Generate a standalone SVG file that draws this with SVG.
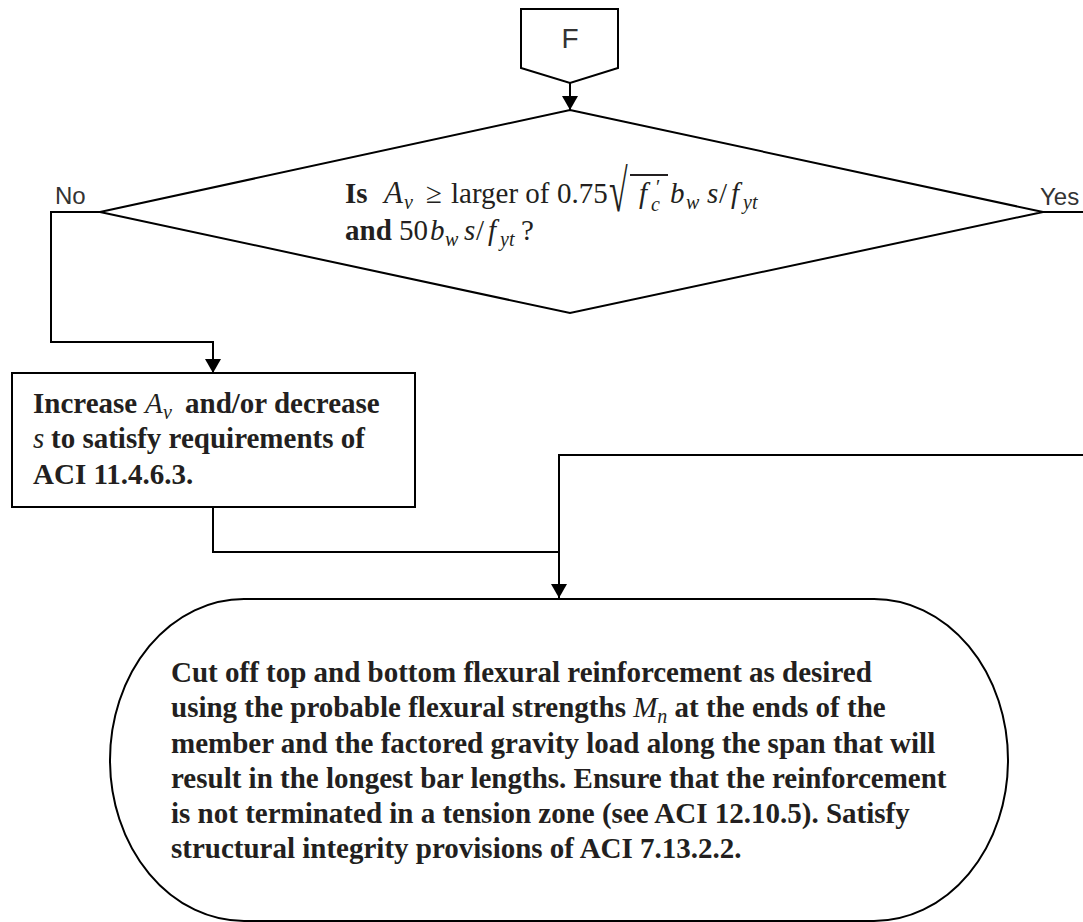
<svg xmlns="http://www.w3.org/2000/svg" width="1083" height="922" viewBox="0 0 1083 922">
<defs>
<style>
.shape{fill:#fff;stroke:#000;stroke-width:2}
.conn{fill:none;stroke:#000;stroke-width:2}
.lbl{font-family:"Liberation Sans",Arial,sans-serif;font-size:24px;fill:#333}
.t{font-family:"Liberation Serif","Times New Roman",serif;font-size:29px;fill:#231f20}
.b{font-weight:bold}
.i{font-style:italic}
.s{font-size:20px}
</style>
<marker id="arr" viewBox="0 0 14 16" refX="14" refY="8" markerWidth="14" markerHeight="16" markerUnits="userSpaceOnUse" orient="auto">
<path d="M0,0 L14,8 L0,16 Z" fill="#000"/>
</marker>
</defs>
<rect width="1083" height="922" fill="#fff"/>
<g id="connectors">
<line class="conn" x1="570" y1="83" x2="570" y2="110" marker-end="url(#arr)"/>
<polyline class="conn" points="100,212 51,212 51,342 213,342 213,373" marker-end="url(#arr)"/>
<line class="conn" x1="1043" y1="212" x2="1083" y2="212"/>
<polyline class="conn" points="213,507 213,552 559,552"/>
<polyline class="conn" points="1083,455 559,455 559,598" marker-end="url(#arr)"/>
<text class="lbl" x="55" y="204">No</text>
<text class="lbl" x="1040" y="205">Yes</text>
</g>
<g id="nodeF">
<polygon class="shape" points="521,9 618,9 618,68 570,83 521,68"/>
<text class="lbl" x="570" y="48" text-anchor="middle" style="font-size:28px">F</text>
</g>
<g id="decision">
<polygon class="shape" points="570,110 1043,212 570,313 100,212"/>
<text class="t b" x="345" y="203">Is</text>
<text class="t i" x="384" y="203" style="font-size:31px">A</text>
<text class="t i s" x="404" y="209">v</text>
<text class="t" x="426" y="203">≥</text>
<text class="t" x="451" y="203">larger of</text>
<text class="t" x="557" y="203">0.75</text>
<text class="t" transform="translate(609,211) scale(1,1.75)" style="font-size:34px">√</text>
<line x1="630" y1="175" x2="668" y2="175" stroke="#231f20" stroke-width="2"/>
<text class="t i" x="639" y="203">f</text>
<text class="t s" x="656" y="194">′</text>
<text class="t i s" x="651" y="211">c</text>
<text class="t i" x="670" y="203">b</text>
<text class="t i s" x="686" y="209">w</text>
<text class="t i" x="707" y="203">s</text>
<text class="t" x="719" y="203">/</text>
<text class="t i" x="731" y="203">f</text>
<text class="t i s" x="743" y="209">yt</text>
<text class="t b" x="345" y="240">and</text>
<text class="t" x="399" y="240">50</text>
<text class="t i" x="430" y="240">b</text>
<text class="t i s" x="445" y="246">w</text>
<text class="t i" x="464" y="240">s</text>
<text class="t" x="476" y="240">/</text>
<text class="t i" x="488" y="240">f</text>
<text class="t i s" x="500" y="246">yt</text>
<text class="t" x="521" y="240">?</text>
</g>
<g id="increase">
<rect class="shape" x="12" y="373" width="403" height="134"/>
<text class="t b" x="33" y="413">Increase</text>
<text class="t i" x="145" y="413">A</text>
<text class="t i s" x="163" y="419">v</text>
<text class="t b" x="185" y="413">and/or decrease</text>
<text class="t i" x="33" y="448">s</text>
<text class="t b" x="51" y="448">to satisfy requirements of</text>
<text class="t b" x="33" y="484">ACI 11.4.6.3.</text>
</g>
<g id="cutoff">
<rect class="shape" x="110" y="599" width="898" height="322" rx="134" ry="161"/>
<text class="t b" x="171" y="682">Cut off top and bottom flexural reinforcement as desired</text>
<text class="t b" x="171" y="717">using the probable flexural strengths <tspan class="i" font-weight="normal">M</tspan><tspan class="i s" font-weight="normal" dy="6">n</tspan><tspan dy="-6"> at the ends of the</tspan></text>
<text class="t b" x="171" y="753">member and the factored gravity load along the span that will</text>
<text class="t b" x="171" y="788">result in the longest bar lengths. Ensure that the reinforcement</text>
<text class="t b" x="171" y="823">is not terminated in a tension zone (see ACI 12.10.5). Satisfy</text>
<text class="t b" x="171" y="858">structural integrity provisions of ACI 7.13.2.2.</text>
</g>
</svg>
